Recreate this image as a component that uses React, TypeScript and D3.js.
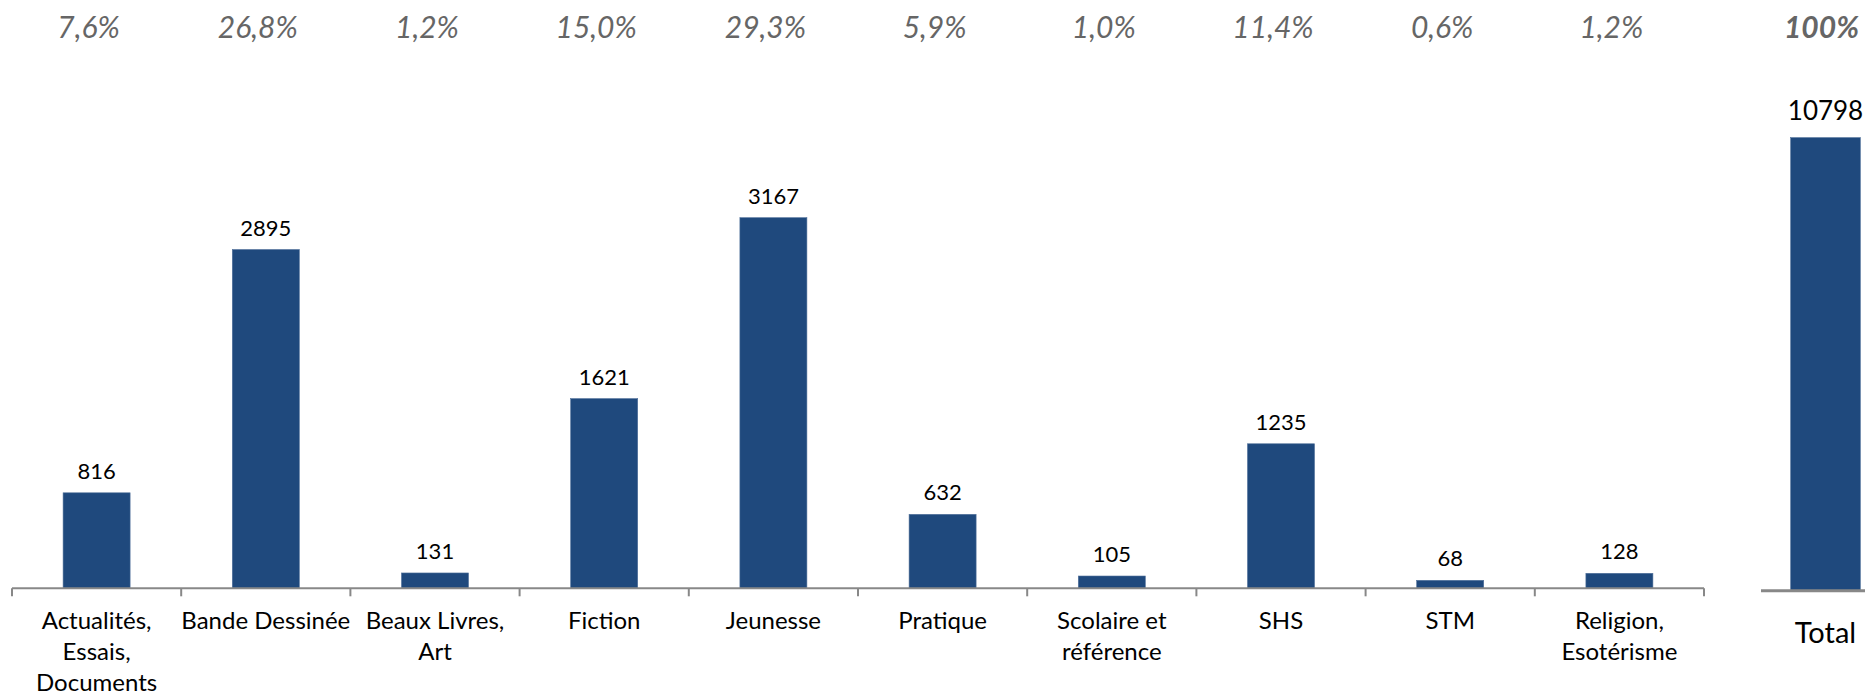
import React, { useEffect, useRef } from "react";
import * as d3 from "d3";

// categories (line breaks as in the original labels)
const categories = [
  "Actualités,\nEssais,\nDocuments",
  "Bande Dessinée",
  "Beaux Livres,\nArt",
  "Fiction",
  "Jeunesse",
  "Pratique",
  "Scolaire et\nréférence",
  "SHS",
  "STM",
  "Religion,\nEsotérisme",
];
const counts = [816, 2895, 131, 1621, 3167, 632, 105, 1235, 68, 128];
const shares = ["7,6%", "26,8%", "1,2%", "15,0%", "29,3%", "5,9%", "1,0%", "11,4%", "0,6%", "1,2%"];

const totalLabel = "Total";
const totalValue = 10798;
const totalShare = "100%";

const WIDTH = 1865;
const HEIGHT = 696;
const FONT = "Lato, 'Open Sans', sans-serif";
const BAR = "#1f497d";

const App: React.FC = () => {
  const ref = useRef<SVGSVGElement | null>(null);

  useEffect(() => {
    const svg = d3.select(ref.current);
    svg.selectAll("*").remove();
    svg.attr("width", WIDTH).attr("height", HEIGHT);

    const axisY = 588.3;

    // main chart scales
    const x = d3
      .scaleBand()
      .domain(categories)
      .range([12, 1704])
      .paddingInner(0.604)
      .paddingOuter(0.302);

    const y = d3.scaleLinear().domain([0, 3500]).range([axisY, axisY - 3500 * 0.11702]);

    const g = svg.append("g");

    // bars
    g.selectAll(".bar")
      .data(counts)
      .enter()
      .append("rect")
      .attr("class", "bar")
      .attr("x", (_d, i) => x(categories[i]) ?? 0)
      .attr("y", (d) => y(d))
      .attr("width", x.bandwidth())
      .attr("height", (d) => axisY - y(d))
      .attr("fill", BAR)
      .attr("stroke", "#4f6f99")
      .attr("stroke-width", 0.6);

    // value labels
    g.selectAll(".val")
      .data(counts)
      .enter()
      .append("text")
      .attr("class", "val")
      .attr("x", (_d, i) => (x(categories[i]) ?? 0) + x.bandwidth() / 2)
      .attr("y", (d) => y(d) - 14)
      .attr("text-anchor", "middle")
      .style("font-family", FONT)
      .style("font-size", "22px")
      .attr("fill", "#000")
      .text((d) => d);

    // percentages row
    g.selectAll(".pct")
      .data(shares)
      .enter()
      .append("text")
      .attr("class", "pct")
      .attr("x", (_d, i) => (x(categories[i]) ?? 0) + x.bandwidth() / 2 - 8)
      .attr("y", 38)
      .attr("text-anchor", "middle")
      .style("font-family", FONT)
      .style("font-size", "30px")
      .style("font-style", "italic")
      .attr("fill", "#666666")
      .text((d) => d);

    // axis line + ticks at band boundaries
    const half = (x.step() - x.bandwidth()) / 2;
    const ticks = categories.map((c) => (x(c) ?? 0) - half);
    ticks.push(x.range()[1]);
    g.append("line")
      .attr("x1", x.range()[0])
      .attr("x2", x.range()[1])
      .attr("y1", axisY)
      .attr("y2", axisY)
      .attr("stroke", "#888888")
      .attr("stroke-width", 2);
    g.selectAll(".tick")
      .data(ticks)
      .enter()
      .append("line")
      .attr("x1", (d) => d)
      .attr("x2", (d) => d)
      .attr("y1", axisY)
      .attr("y2", axisY + 8)
      .attr("stroke", "#888888")
      .attr("stroke-width", 2);

    // category labels
    const labels = g
      .selectAll(".cat")
      .data(categories)
      .enter()
      .append("text")
      .attr("class", "cat")
      .attr("text-anchor", "middle")
      .style("font-family", FONT)
      .style("font-size", "24px")
      .attr("fill", "#000");
    labels.each(function (d) {
      const cx = (x(d) ?? 0) + x.bandwidth() / 2;
      d3.select(this)
        .selectAll("tspan")
        .data(d.split("\n"))
        .enter()
        .append("tspan")
        .attr("x", cx)
        .attr("y", (_l, j) => 629 + j * 31)
        .text((l) => l);
    });

    // total chart
    const totalAxisY = 590.7;
    const xt = d3
      .scaleBand()
      .domain([totalLabel])
      .range([1761, 1890])
      .paddingInner(0.46)
      .paddingOuter(0.23);
    const yt = d3.scaleLinear().domain([0, 12000]).range([totalAxisY, totalAxisY - 12000 * 0.04196]);
    const tcx = (xt(totalLabel) ?? 0) + xt.bandwidth() / 2;

    g.append("rect")
      .attr("x", xt(totalLabel) ?? 0)
      .attr("y", yt(totalValue))
      .attr("width", xt.bandwidth())
      .attr("height", totalAxisY - yt(totalValue))
      .attr("fill", BAR)
      .attr("stroke", "#4f6f99")
      .attr("stroke-width", 0.6);

    g.append("line")
      .attr("x1", 1761)
      .attr("x2", WIDTH)
      .attr("y1", totalAxisY)
      .attr("y2", totalAxisY)
      .attr("stroke", "#888888")
      .attr("stroke-width", 3);

    g.append("text")
      .attr("x", tcx)
      .attr("y", yt(totalValue) - 18)
      .attr("text-anchor", "middle")
      .style("font-family", FONT)
      .style("font-size", "26px")
      .attr("fill", "#000")
      .text(totalValue);

    g.append("text")
      .attr("x", tcx - 4)
      .attr("y", 38)
      .attr("text-anchor", "middle")
      .style("font-family", FONT)
      .style("font-size", "30px")
      .style("font-style", "italic")
      .style("font-weight", "bold")
      .attr("fill", "#666666")
      .text(totalShare);

    g.append("text")
      .attr("x", tcx)
      .attr("y", 643)
      .attr("text-anchor", "middle")
      .style("font-family", FONT)
      .style("font-size", "29px")
      .attr("fill", "#000")
      .text(totalLabel);
  }, []);

  return (
    <svg
      ref={ref}
      style={{ position: "absolute", left: 0, top: 0, background: "#fff" }}
    ></svg>
  );
};

export default App;
